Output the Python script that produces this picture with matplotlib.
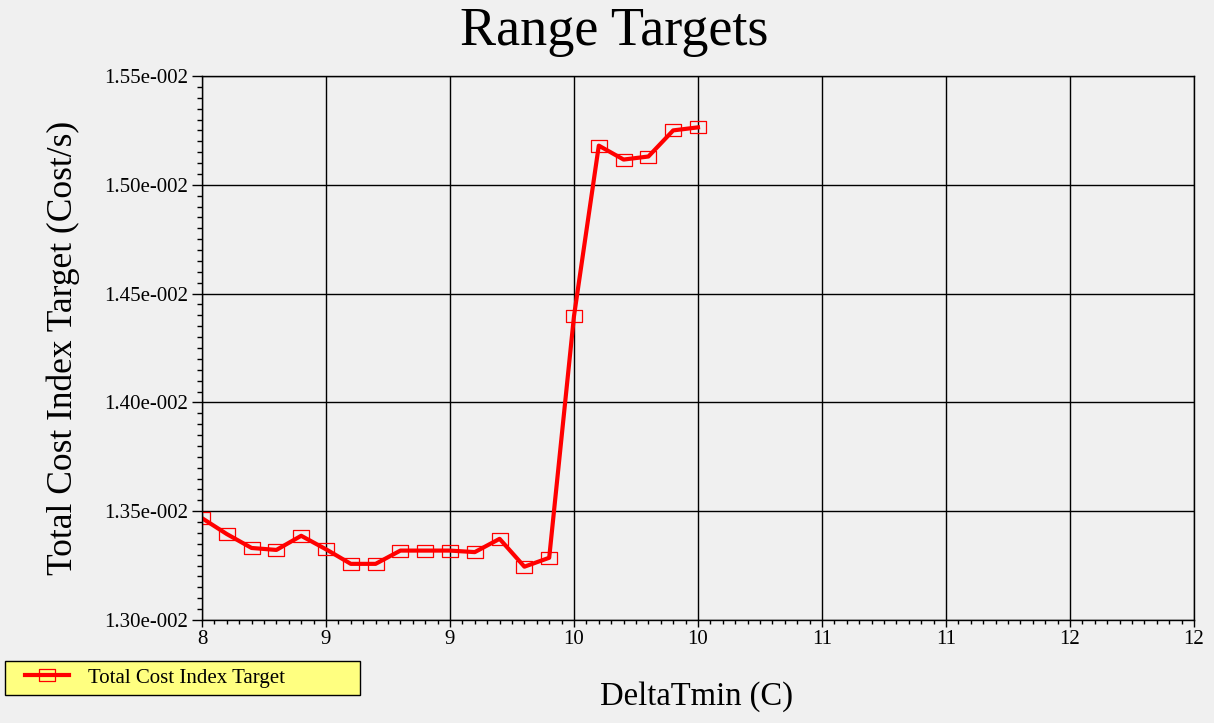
import matplotlib
matplotlib.use("Agg")
import matplotlib.pyplot as plt
from matplotlib.path import Path
from matplotlib.ticker import AutoMinorLocator
from matplotlib.legend_handler import HandlerLine2D

# DeltaTmin (C)
delta_tmin = [8.0, 8.1, 8.2, 8.3, 8.4, 8.5, 8.6, 8.7, 8.8, 8.9, 9.0,
              9.1, 9.2, 9.3, 9.4, 9.5, 9.6, 9.7, 9.8, 9.9, 10.0]

# Total Cost Index Target (Cost/s)
cost_target = [0.013468, 0.013395, 0.013331, 0.013322, 0.013387, 0.013325,
               0.013258, 0.013258, 0.013319, 0.013319, 0.013319, 0.013312,
               0.013373, 0.013245, 0.013286, 0.014397, 0.015180, 0.015116,
               0.015130, 0.015250, 0.015264]

series_label = "Total Cost Index Target"

x_ticks = [8.0, 8.5, 9.0, 9.5, 10.0, 10.5, 11.0, 11.5, 12.0]
x_tick_labels = ["8", "9", "9", "10", "10", "11", "11", "12", "12"]
y_ticks = [0.0130, 0.0135, 0.0140, 0.0145, 0.0150, 0.0155]

BG = "#F0F0F0"
plt.rcParams["font.family"] = ["Liberation Serif", "DejaVu Serif"]


def sci_label(v):
    """Format like 1.35e-002 (three digit exponent)."""
    mant, exp = f"{v:.2e}".split("e")
    e = int(exp)
    return f"{mant}e{'-' if e < 0 else '+'}{abs(e):03d}"


# open rectangle marker, a bit wider than tall
rect_marker = Path([(-17, -12.5), (17, -12.5), (17, 12.5), (-17, 12.5), (-17, -12.5)],
                   [Path.MOVETO, Path.LINETO, Path.LINETO, Path.LINETO, Path.CLOSEPOLY])

fig = plt.figure(figsize=(12.14, 7.23), dpi=100, facecolor=BG)
ax = fig.add_axes([202 / 1214, 103 / 723, 992 / 1214, 544 / 723], facecolor=BG)

line, = ax.plot(delta_tmin, cost_target, color="red", lw=3.0,
                marker=rect_marker, ms=11.5, mfc="none", mec="red", mew=0.9,
                label=series_label)

ax.set_xlim(8, 12)
ax.set_ylim(0.0130, 0.0155)
ax.set_xticks(x_ticks, x_tick_labels)
ax.set_yticks(y_ticks, [sci_label(v) for v in y_ticks])
ax.xaxis.set_minor_locator(AutoMinorLocator(10))
ax.yaxis.set_minor_locator(AutoMinorLocator(10))

ax.tick_params(which="both", direction="out", color="black", width=1, labelsize=15,
               labelcolor="black")
ax.tick_params(axis="y", which="major", length=7, pad=3)
ax.tick_params(axis="y", which="minor", length=3.6)
ax.tick_params(axis="x", which="major", length=5, pad=2)
ax.tick_params(axis="x", which="minor", length=3)

ax.grid(which="major", color="black", lw=1)
for sp in ax.spines.values():
    sp.set_color("black")
    sp.set_linewidth(1)

ax.set_ylabel("Total Cost Index Target (Cost/s)", fontsize=25.5, va="center")
ax.yaxis.set_label_coords((63 - 202) / 992, 0.5)
ax.set_xlabel("DeltaTmin (C)", fontsize=23.5, va="center")
ax.xaxis.set_label_coords((696 - 202) / 992, (620 - 697) / 544)

fig.text(614 / 1214, 1 - 32 / 723, "Range Targets", fontsize=39,
         ha="center", va="center")

leg = fig.legend(handles=[line], loc="upper left",
                 bbox_to_anchor=(5 / 1214, 28 / 723, 355 / 1214, 34 / 723),
                 mode="expand", borderaxespad=0, borderpad=0.34,
                 handlelength=2.74, handletextpad=0.91, fontsize=15,
                 fancybox=False, framealpha=1, facecolor="#FFFF80",
                 edgecolor="black",
                 handler_map={line: HandlerLine2D(xpad=0.62)})
leg.get_frame().set_linewidth(1)

fig.savefig("out.png", dpi=100, facecolor=BG)
